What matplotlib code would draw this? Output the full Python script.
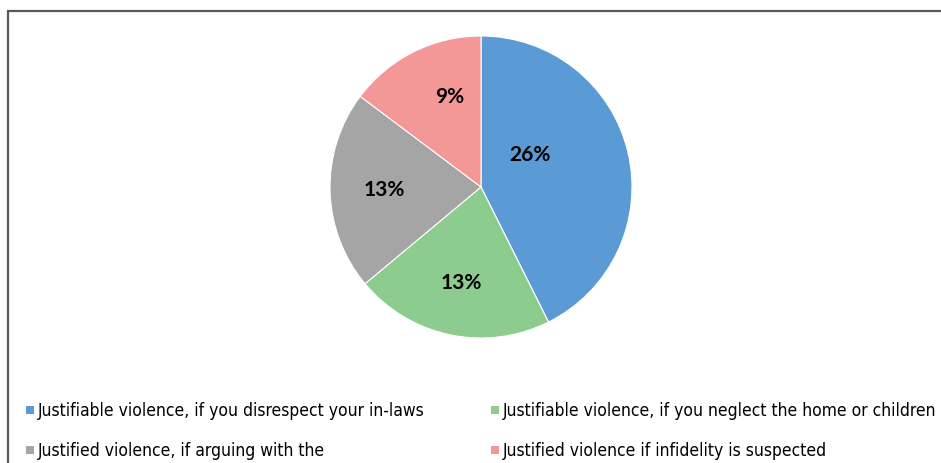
import matplotlib
matplotlib.use("Agg")
import matplotlib.pyplot as plt
import numpy as np
from matplotlib.patches import Rectangle

categories = [
    "Justifiable violence, if you disrespect your in-laws",
    "Justifiable violence, if you neglect the home or children",
    "Justified violence, if arguing with the",
    "Justified violence if infidelity is suspected",
]
values = [26, 13, 13, 9]
colors = ["#5b9bd5", "#8ccc8e", "#a5a5a5", "#f49797"]

fig = plt.figure(figsize=(9.41, 4.64), dpi=100)
W, H = 941, 464

# frame
fig.add_artist(Rectangle((8 / W, -0.1), 1.2, (H - 12) / H + 0.1, transform=fig.transFigure,
                         fill=False, edgecolor="#595959", linewidth=1.6))

r = 151
cx, cy = 481, 188
ax = fig.add_axes([(cx - r) / W, (H - cy - r) / H, 2 * r / W, 2 * r / H])
wedges, texts, autotexts = ax.pie(
    values, colors=colors, startangle=90, counterclock=False,
    autopct=lambda p: "", pctdistance=0.64,
    wedgeprops=dict(edgecolor="white", linewidth=0.8),
)
ax.set_xlim(-1, 1)
ax.set_ylim(-1, 1)
ax.set_aspect("equal")

label_font = dict(family=["Lato", "DejaVu Sans"], fontweight="bold", fontsize=15, color="black")
for i, (w, at) in enumerate(zip(wedges, autotexts)):
    x, y = at.get_position()
    if i == 0:
        ang = np.deg2rad(34)
        x, y = 0.39 * np.cos(ang), 0.39 * np.sin(ang)
    elif i == 3:
        ang = np.deg2rad(109)
        x, y = 0.64 * np.cos(ang), 0.64 * np.sin(ang)
    at.set_position((x, y))
    at.set_text(f"{values[i]}%")
    at.set(ha="center", va="center", **label_font)

# legend
leg_font = dict(family=["DejaVu Sans"], fontstretch="condensed", fontsize=13.5)
pos = [(30, 411), (495, 411), (30, 451), (495, 451)]
txts = []
for (px, py), c, lab in zip(pos, colors, categories):
    fig.add_artist(Rectangle(((px - 4) / W, (H - py - 4) / H), 8 / W, 8 / H,
                             transform=fig.transFigure, facecolor=c, edgecolor="none"))
    txts.append(fig.text((px + 8) / W, (H - py) / H, lab, ha="left", va="center", **leg_font))

# fit the legend texts to the reference widths
fig.canvas.draw()
rend = fig.canvas.get_renderer()
s0 = (437 - 38) / txts[0].get_window_extent(rend).width
s1 = (936 - 503) / txts[1].get_window_extent(rend).width
scale = min(s0, s1)
for t in txts:
    t.set_fontsize(t.get_fontsize() * scale)

fig.savefig("out.png", dpi=100)
